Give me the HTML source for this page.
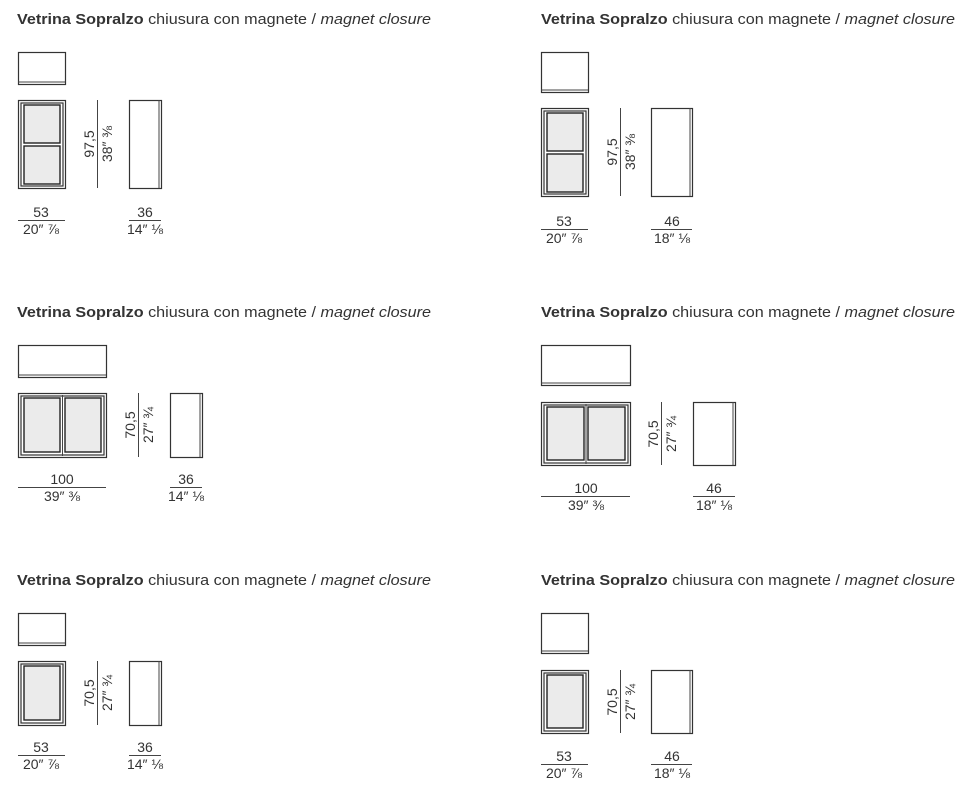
<!DOCTYPE html>
<html><head><meta charset="utf-8"><style>
html,body{margin:0;padding:0;background:#fff;}
svg{display:block;}
text{font-family:"Liberation Sans",sans-serif;fill:#333;}
.t{font-size:15px;}
.d{font-size:14px;}
.s{fill:none;stroke:#333;stroke-width:1.2;}
.g{fill:#ebebeb;stroke:#222;stroke-width:1.4;}
.l{stroke:#444;stroke-width:1;}
</style></head><body>
<svg width="969" height="795" viewBox="0 0 969 795" xmlns="http://www.w3.org/2000/svg">
<text class="t" x="17" y="24" textLength="414" lengthAdjust="spacingAndGlyphs"><tspan font-weight="bold">Vetrina Sopralzo</tspan> chiusura con magnete / <tspan font-style="italic">magnet closure</tspan></text>
<text class="t" x="541" y="24" textLength="414" lengthAdjust="spacingAndGlyphs"><tspan font-weight="bold">Vetrina Sopralzo</tspan> chiusura con magnete / <tspan font-style="italic">magnet closure</tspan></text>
<text class="t" x="17" y="317" textLength="414" lengthAdjust="spacingAndGlyphs"><tspan font-weight="bold">Vetrina Sopralzo</tspan> chiusura con magnete / <tspan font-style="italic">magnet closure</tspan></text>
<text class="t" x="541" y="317" textLength="414" lengthAdjust="spacingAndGlyphs"><tspan font-weight="bold">Vetrina Sopralzo</tspan> chiusura con magnete / <tspan font-style="italic">magnet closure</tspan></text>
<text class="t" x="17" y="585" textLength="414" lengthAdjust="spacingAndGlyphs"><tspan font-weight="bold">Vetrina Sopralzo</tspan> chiusura con magnete / <tspan font-style="italic">magnet closure</tspan></text>
<text class="t" x="541" y="585" textLength="414" lengthAdjust="spacingAndGlyphs"><tspan font-weight="bold">Vetrina Sopralzo</tspan> chiusura con magnete / <tspan font-style="italic">magnet closure</tspan></text>

<!-- Panel 1 -->
<rect class="s" x="18.5" y="52.5" width="47" height="32"/><line class="l" x1="18" y1="82" x2="65" y2="82"/>
<rect class="s" x="18.5" y="100.5" width="47" height="88"/><rect class="s" x="21" y="103" width="42" height="83"/>
<rect class="g" x="24" y="105" width="36" height="38"/><rect class="g" x="24" y="146" width="36" height="38"/>
<line class="l" x1="97.5" y1="100" x2="97.5" y2="188"/>
<text class="d" transform="translate(94,144) rotate(-90)" text-anchor="middle">97,5</text>
<text class="d" transform="translate(112,144) rotate(-90)" text-anchor="middle">38″ ⅜</text>
<rect class="s" x="129.5" y="100.5" width="32" height="88"/><line class="l" x1="159" y1="100" x2="159" y2="188"/>
<text class="d" x="41" y="217" text-anchor="middle">53</text><line class="l" x1="18" y1="220.5" x2="65" y2="220.5"/><text class="d" x="41" y="234" text-anchor="middle">20″ ⅞</text>
<text class="d" x="145" y="217" text-anchor="middle">36</text><line class="l" x1="129" y1="220.5" x2="161" y2="220.5"/><text class="d" x="145" y="234" text-anchor="middle">14″ ⅛</text>

<!-- Panel 2 -->
<rect class="s" x="541.5" y="52.5" width="47" height="40"/><line class="l" x1="541" y1="90" x2="588" y2="90"/>
<rect class="s" x="541.5" y="108.5" width="47" height="88"/><rect class="s" x="544" y="111" width="42" height="83"/>
<rect class="g" x="547" y="113" width="36" height="38"/><rect class="g" x="547" y="154" width="36" height="38"/>
<line class="l" x1="620.5" y1="108" x2="620.5" y2="196"/>
<text class="d" transform="translate(617,152) rotate(-90)" text-anchor="middle">97,5</text>
<text class="d" transform="translate(635,152) rotate(-90)" text-anchor="middle">38″ ⅜</text>
<rect class="s" x="651.5" y="108.5" width="41" height="88"/><line class="l" x1="690" y1="108" x2="690" y2="196"/>
<text class="d" x="564" y="226" text-anchor="middle">53</text><line class="l" x1="541" y1="229.5" x2="588" y2="229.5"/><text class="d" x="564" y="243" text-anchor="middle">20″ ⅞</text>
<text class="d" x="672" y="226" text-anchor="middle">46</text><line class="l" x1="651" y1="229.5" x2="692" y2="229.5"/><text class="d" x="672" y="243" text-anchor="middle">18″ ⅛</text>

<!-- Panel 3 -->
<rect class="s" x="18.5" y="345.5" width="88" height="32"/><line class="l" x1="18" y1="375" x2="106" y2="375"/>
<rect class="s" x="18.5" y="393.5" width="88" height="64"/><rect class="s" x="21" y="396" width="83" height="59"/>
<rect class="g" x="24" y="398" width="36" height="54"/><rect class="g" x="65" y="398" width="36" height="54"/>
<line class="l" x1="62.5" y1="395" x2="62.5" y2="456"/>
<line class="l" x1="138.5" y1="393" x2="138.5" y2="457"/>
<text class="d" transform="translate(135,425) rotate(-90)" text-anchor="middle">70,5</text>
<text class="d" transform="translate(153,425) rotate(-90)" text-anchor="middle">27″ ¾</text>
<rect class="s" x="170.5" y="393.5" width="32" height="64"/><line class="l" x1="200" y1="393" x2="200" y2="457"/>
<text class="d" x="62" y="484" text-anchor="middle">100</text><line class="l" x1="18" y1="487.5" x2="106" y2="487.5"/><text class="d" x="62" y="501" text-anchor="middle">39″ ⅜</text>
<text class="d" x="186" y="484" text-anchor="middle">36</text><line class="l" x1="170" y1="487.5" x2="202" y2="487.5"/><text class="d" x="186" y="501" text-anchor="middle">14″ ⅛</text>

<!-- Panel 4 -->
<rect class="s" x="541.5" y="345.5" width="89" height="40"/><line class="l" x1="541" y1="383" x2="630" y2="383"/>
<rect class="s" x="541.5" y="402.5" width="89" height="63"/><rect class="s" x="544" y="405" width="84" height="58"/>
<rect class="g" x="547" y="407" width="37" height="53"/><rect class="g" x="588" y="407" width="37" height="53"/>
<line class="l" x1="586" y1="404" x2="586" y2="464"/>
<line class="l" x1="661.5" y1="402" x2="661.5" y2="465"/>
<text class="d" transform="translate(658,434) rotate(-90)" text-anchor="middle">70,5</text>
<text class="d" transform="translate(676,434) rotate(-90)" text-anchor="middle">27″ ¾</text>
<rect class="s" x="693.5" y="402.5" width="42" height="63"/><line class="l" x1="733" y1="402" x2="733" y2="465"/>
<text class="d" x="586" y="493" text-anchor="middle">100</text><line class="l" x1="541" y1="496.5" x2="630" y2="496.5"/><text class="d" x="586" y="510" text-anchor="middle">39″ ⅜</text>
<text class="d" x="714" y="493" text-anchor="middle">46</text><line class="l" x1="693" y1="496.5" x2="735" y2="496.5"/><text class="d" x="714" y="510" text-anchor="middle">18″ ⅛</text>

<!-- Panel 5 -->
<rect class="s" x="18.5" y="613.5" width="47" height="32"/><line class="l" x1="18" y1="643" x2="65" y2="643"/>
<rect class="s" x="18.5" y="661.5" width="47" height="64"/><rect class="s" x="21" y="664" width="42" height="59"/>
<rect class="g" x="24" y="666" width="36" height="54"/>
<line class="l" x1="97.5" y1="661" x2="97.5" y2="725"/>
<text class="d" transform="translate(94,693) rotate(-90)" text-anchor="middle">70,5</text>
<text class="d" transform="translate(112,693) rotate(-90)" text-anchor="middle">27″ ¾</text>
<rect class="s" x="129.5" y="661.5" width="32" height="64"/><line class="l" x1="159" y1="661" x2="159" y2="725"/>
<text class="d" x="41" y="752" text-anchor="middle">53</text><line class="l" x1="18" y1="755.5" x2="65" y2="755.5"/><text class="d" x="41" y="769" text-anchor="middle">20″ ⅞</text>
<text class="d" x="145" y="752" text-anchor="middle">36</text><line class="l" x1="129" y1="755.5" x2="161" y2="755.5"/><text class="d" x="145" y="769" text-anchor="middle">14″ ⅛</text>

<!-- Panel 6 -->
<rect class="s" x="541.5" y="613.5" width="47" height="40"/><line class="l" x1="541" y1="651" x2="588" y2="651"/>
<rect class="s" x="541.5" y="670.5" width="47" height="63"/><rect class="s" x="544" y="673" width="42" height="58"/>
<rect class="g" x="547" y="675" width="36" height="53"/>
<line class="l" x1="620.5" y1="670" x2="620.5" y2="733"/>
<text class="d" transform="translate(617,702) rotate(-90)" text-anchor="middle">70,5</text>
<text class="d" transform="translate(635,702) rotate(-90)" text-anchor="middle">27″ ¾</text>
<rect class="s" x="651.5" y="670.5" width="41" height="63"/><line class="l" x1="690" y1="670" x2="690" y2="733"/>
<text class="d" x="564" y="761" text-anchor="middle">53</text><line class="l" x1="541" y1="764.5" x2="588" y2="764.5"/><text class="d" x="564" y="778" text-anchor="middle">20″ ⅞</text>
<text class="d" x="672" y="761" text-anchor="middle">46</text><line class="l" x1="651" y1="764.5" x2="692" y2="764.5"/><text class="d" x="672" y="778" text-anchor="middle">18″ ⅛</text>
</svg>
</body></html>
